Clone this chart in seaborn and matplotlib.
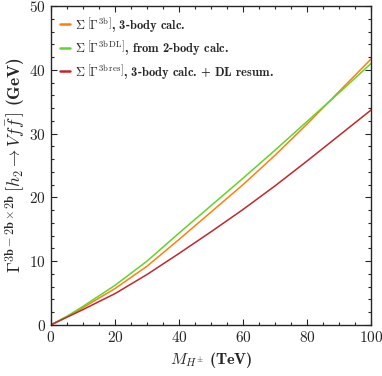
import numpy as np
import pandas as pd
import matplotlib
matplotlib.use("Agg")
import matplotlib.pyplot as plt
from matplotlib.ticker import MultipleLocator
import seaborn as sns

# values (Gamma in GeV vs M_H+- in TeV)
mass = [0, 5, 10, 20, 30, 40, 50, 60, 70, 80, 90, 100]
gamma_3b = [0, 1.3, 2.7, 5.7, 9.2, 13.4, 17.7, 22.0, 26.6, 31.5, 36.6, 41.7]
gamma_dl = [0, 1.35, 2.9, 6.2, 10.0, 14.4, 18.7, 23.0, 27.4, 31.9, 36.4, 41.0]
gamma_res = [0, 1.2, 2.4, 4.9, 7.9, 11.2, 14.6, 18.1, 21.8, 25.7, 29.7, 33.7]

labels = [
    r'$\mathbf{\Sigma}\;\left[\mathbf{\Gamma}^{\mathrm{3b}}\right]$, 3-body calc.',
    r'$\mathbf{\Sigma}\;\left[\mathbf{\Gamma}^{\mathrm{3b\,DL}}\right]$, from 2-body calc.',
    r'$\mathbf{\Sigma}\;\left[\mathbf{\Gamma}^{\mathrm{3b\,res}}\right]$, 3-body calc. + DL resum.',
]
colors = ['#ff7f0e', '#5ed62a', '#c1272d']

df = pd.concat([
    pd.DataFrame({'M': mass, 'G': g, 'curve': lab})
    for g, lab in zip([gamma_3b, gamma_dl, gamma_res], labels)
])

sns.set_style('ticks')
plt.rcParams['font.family'] = 'serif'
plt.rcParams['font.serif'] = ['cmr10']
plt.rcParams['mathtext.fontset'] = 'cm'
plt.rcParams['axes.formatter.use_mathtext'] = True

fig = plt.figure(figsize=(3.82, 3.76), dpi=100)
ax = fig.add_axes([0.1335, 0.136, 0.838, 0.848])

sns.lineplot(data=df, x='M', y='G', hue='curve', palette=colors,
             linewidth=1.1, ax=ax)

ax.set_xlim(0, 100)
ax.set_ylim(0, 50)
ax.xaxis.set_major_locator(MultipleLocator(20))
ax.xaxis.set_minor_locator(MultipleLocator(5))
ax.yaxis.set_major_locator(MultipleLocator(10))
ax.yaxis.set_minor_locator(MultipleLocator(2))
ax.tick_params(which='both', direction='in', top=True, right=True,
               labelsize=11, width=0.8)
ax.tick_params(which='major', length=4)
ax.tick_params(which='minor', length=2)
for s in ax.spines.values():
    s.set_linewidth(1.0)

ax.set_xlabel(r'$M_{H^{\pm}}$ (TeV)', fontfamily='cmb10', fontsize=11.5,
              labelpad=4)
ax.set_ylabel(r'$\mathbf{\Gamma}^{\mathbf{3b-2b\times 2b}}\,'
              r'\left[h_2\rightarrow Vf\bar{f}\,\right]$ (GeV)',
              fontfamily='cmb10', fontsize=12.5, labelpad=1)

leg = ax.legend(loc='upper left', frameon=False, handlelength=0.8,
                handletextpad=0.4, borderaxespad=0.3, labelspacing=0.35,
                prop={'family': 'cmb10', 'size': 9})
for line in leg.get_lines():
    line.set_linewidth(1.8)

fig.savefig('out.png', dpi=100)
